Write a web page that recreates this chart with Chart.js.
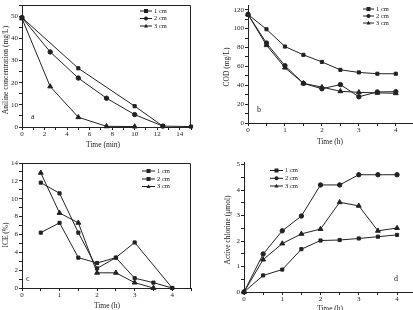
<!DOCTYPE html>
<html>
<head>
<meta charset="utf-8">
<script src="https://cdn.jsdelivr.net/npm/chart.js@4"></script>
<style>
    html, body { margin: 0; padding: 0; background: #fff; overflow: hidden; width: 413px; height: 310px; }
    canvas { position: absolute; }
</style>
</head>
<body>
<canvas id="chartA" width="206" height="155" style="left:0;top:0"></canvas>
<canvas id="chartB" width="230" height="155" style="left:206px;top:0"></canvas>
<canvas id="chartC" width="206" height="155" style="left:0;top:155px"></canvas>
<canvas id="chartD" width="230" height="155" style="left:206px;top:155px"></canvas>
<script>
// Panel a: aniline concentration vs time (min)
const timeA1 = [0, 5, 10, 12.5, 15];
const anilineA1 = [49.4, 26.5, 9.4, 0.4, 0.2];
const timeA2 = [0, 2.5, 5, 7.5, 10, 12.5];
const anilineA2 = [49.4, 33.9, 22.1, 13.0, 5.6, 0.4];
const timeA3 = [0, 2.5, 5, 7.5, 10];
const anilineA3 = [49.0, 18.3, 4.4, 0.3, 0.2];

// Panel b: COD vs time (h)
const timeH = [0, 0.5, 1, 1.5, 2, 2.5, 3, 3.5, 4];
const codB1 = [115, 99.3, 81, 72.2, 64.7, 56.3, 53.6, 52.2, 52.2];
const codB2 = [115, 84.7, 60.7, 42, 36.3, 40.7, 27.8, 32.9, 33.2];
const codB3 = [115, 82.4, 58.6, 42, 38, 33.6, 32.5, 31.9, 31.5];

// Panel c: ICE vs time (h)
const timeC1 = [0.5, 1, 1.5, 2, 2.5, 3, 4];
const iceC1 = [6.2, 7.3, 3.4, 2.8, 3.4, 5.1, 0];
const timeC2 = [0.5, 1, 1.5, 2, 2.5, 3, 3.5, 4];
const iceC2 = [11.8, 10.6, 6.2, 2.2, 3.4, 1.1, 0.6, 0];
const timeC3 = [0.5, 1, 1.5, 2, 2.5, 3, 3.5];
const iceC3 = [12.9, 8.4, 7.3, 1.7, 1.7, 0.6, 0];

// Panel d: active chlorine vs time (h)
const chlorD1 = [0, 0.65, 0.88, 1.68, 2.02, 2.04, 2.1, 2.17, 2.24];
const chlorD2 = [0, 1.49, 2.4, 2.98, 4.2, 4.2, 4.6, 4.6, 4.6];
const chlorD3 = [0, 1.27, 1.9, 2.28, 2.47, 3.52, 3.38, 2.4, 2.51];

const seriesNames = ['1 cm', '2 cm', '3 cm'];

const INK = '#222';
const FONT = '"Liberation Serif", "Times New Roman", serif';

function pairs(xs, ys) {
    return xs.map((x, i) => ({ x: x, y: ys[i] }));
}

function series(label, xs, ys, style) {
    return {
        label: label,
        data: pairs(xs, ys),
        borderColor: INK,
        backgroundColor: INK,
        borderWidth: 1,
        pointStyle: style,
        pointRadius: style === 'triangle' ? 2.8 : 2.2,
        pointBorderWidth: 1,
        pointBorderColor: INK,
        pointBackgroundColor: INK,
        tension: 0,
        clip: 6
    };
}

function isMultiple(v, every) {
    const r = v / every;
    return Math.abs(r - Math.round(r)) < 1e-6;
}

function marker(ctx, style, x, y, r) {
    ctx.beginPath();
    if (style === 'rect') {
        ctx.rect(x - r, y - r, 2 * r, 2 * r);
    } else if (style === 'triangle') {
        ctx.moveTo(x, y - r * 1.1);
        ctx.lineTo(x + r, y + r * 0.7);
        ctx.lineTo(x - r, y + r * 0.7);
        ctx.closePath();
    } else {
        ctx.arc(x, y, r, 0, Math.PI * 2);
    }
    ctx.fill();
}

// frame, legend, panel letter and axis titles
const decor = {
    id: 'decor',
    afterDraw(chart, args, o) {
        const ctx = chart.ctx;
        const a = chart.chartArea;
        ctx.save();
        ctx.strokeStyle = INK;
        ctx.fillStyle = INK;
        ctx.lineWidth = 1;
        if (o.frame) {
            ctx.beginPath();
            ctx.moveTo(Math.round(a.left) + 0.5, Math.round(a.top) + 0.5);
            ctx.lineTo(Math.round(a.right) - 0.5, Math.round(a.top) + 0.5);
            ctx.lineTo(Math.round(a.right) - 0.5, Math.round(a.bottom));
            ctx.stroke();
        }
        ctx.font = '6.5px ' + FONT;
        ctx.textBaseline = 'middle';
        ctx.textAlign = 'left';
        chart.data.datasets.forEach((ds, i) => {
            const y = o.legend.ys[i];
            ctx.beginPath();
            ctx.moveTo(o.legend.x1, y);
            ctx.lineTo(o.legend.x2, y);
            ctx.stroke();
            marker(ctx, ds.pointStyle, (o.legend.x1 + o.legend.x2) / 2, y, 2);
            ctx.fillText(ds.label, o.legend.x2 + 2, y);
        });
        ctx.font = '8px ' + FONT;
        ctx.fillText(o.letter[0], o.letter[1], o.letter[2]);
        ctx.font = '7.5px ' + FONT;
        ctx.textAlign = 'center';
        ctx.fillText(o.xTitle[0], o.xTitle[1], o.xTitle[2]);
        ctx.translate(o.yTitle[1], o.yTitle[2]);
        ctx.rotate(-Math.PI / 2);
        ctx.fillText(o.yTitle[0], 0, 0);
        ctx.restore();
    }
};

function axis(min, max, step, labelEvery, fitSize, isX) {
    return {
        type: 'linear',
        min: min,
        max: max,
        ticks: {
            stepSize: step,
            includeBounds: false,
            autoSkip: false,
            maxRotation: 0,
            padding: isX ? 0 : 1,
            color: INK,
            font: { family: FONT, size: 7 },
            callback: v => isMultiple(v, labelEvery) ? String(v) : ''
        },
        grid: { drawOnChartArea: false, tickLength: 3, color: INK, lineWidth: 1 },
        border: { color: INK, width: 1 },
        afterFit: s => { if (isX) { s.height = fitSize; } else { s.width = fitSize; } }
    };
}

function makePanel(id, datasets, p) {
    return new Chart(document.getElementById(id).getContext('2d'), {
        type: 'line',
        data: { datasets: datasets },
        options: {
            responsive: false,
            animation: false,
            layout: { autoPadding: false, padding: { left: 0, top: p.top, right: p.right, bottom: 0 } },
            scales: {
                x: axis(p.x[0], p.x[1], p.x[2], p.x[3], p.xHeight, true),
                y: axis(p.y[0], p.y[1], p.y[2], p.y[3], p.yWidth, false)
            },
            plugins: {
                legend: { display: false },
                tooltip: { enabled: false },
                decor: p.decor
            }
        },
        plugins: [decor]
    });
}

makePanel('chartA', [
    series(seriesNames[0], timeA1, anilineA1, 'rect'),
    series(seriesNames[1], timeA2, anilineA2, 'circle'),
    series(seriesNames[2], timeA3, anilineA3, 'triangle')
], {
    x: [0, 15, 1, 2], y: [0, 55, 5, 10],
    top: 1, right: 15, xHeight: 28, yWidth: 22,
    decor: {
        frame: true,
        legend: { x1: 140, x2: 152, ys: [11, 18.5, 26] },
        letter: ['a', 31, 117],
        xTitle: ['Time (min)', 103, 145],
        yTitle: ['Aniline concentration (mg/L)', 6, 70]
    }
});

makePanel('chartB', [
    series(seriesNames[0], timeH, codB1, 'rect'),
    series(seriesNames[1], timeH, codB2, 'circle'),
    series(seriesNames[2], timeH, codB3, 'triangle')
], {
    x: [0, 4.6, 0.5, 1], y: [0, 124.8, 10, 20],
    top: 0, right: 18, xHeight: 32, yWidth: 42,
    decor: {
        frame: false,
        legend: { x1: 157, x2: 168, ys: [9, 16, 23] },
        letter: ['b', 51, 110],
        xTitle: ['Time (h)', 124, 142],
        yTitle: ['COD (mg/L)', 21, 67]
    }
});

makePanel('chartC', [
    series(seriesNames[0], timeC1, iceC1, 'rect'),
    series(seriesNames[1], timeC2, iceC2, 'rect'),
    series(seriesNames[2], timeC3, iceC3, 'triangle')
], {
    x: [0, 4.5, 0.5, 1], y: [0, 14, 1, 2],
    top: 8, right: 15, xHeight: 22, yWidth: 22,
    decor: {
        frame: true,
        legend: { x1: 142, x2: 155, ys: [16, 24, 31.5] },
        letter: ['c', 26, 124],
        xTitle: ['Time (h)', 107, 151],
        yTitle: ['ICE (%)', 6, 80]
    }
});

makePanel('chartD', [
    series(seriesNames[0], timeH, chlorD1, 'rect'),
    series(seriesNames[1], timeH, chlorD2, 'circle'),
    series(seriesNames[2], timeH, chlorD3, 'triangle')
], {
    x: [0, 4.6, 0.5, 1], y: [0, 5.1, 0.5, 1],
    top: 7, right: 16, xHeight: 18, yWidth: 38,
    decor: {
        frame: false,
        legend: { x1: 64, x2: 77, ys: [15.5, 23.3, 31] },
        letter: ['d', 188, 124],
        xTitle: ['Time (h)', 124, 154],
        yTitle: ['Active chlorine (\u03bcmol)', 22, 75]
    }
});
</script>
</body>
</html>
